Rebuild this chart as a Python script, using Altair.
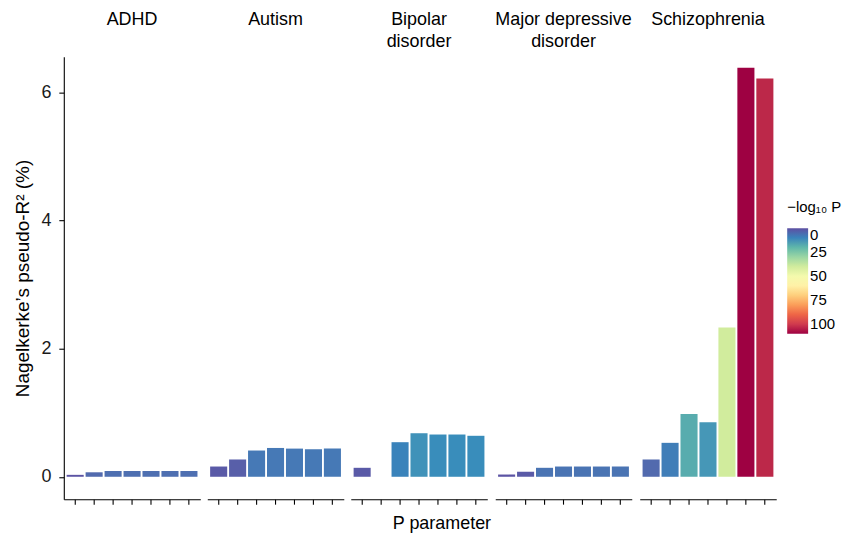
import altair as alt
import pandas as pd

disorders = ["ADHD", "Autism", "Bipolar disorder", "Major depressive disorder", "Schizophrenia"]
panel_titles = [["ADHD", " "], ["Autism", " "], ["Bipolar", "disorder"],
                ["Major depressive", "disorder"], ["Schizophrenia", " "]]
thresholds = ["P1", "P2", "P3", "P4", "P5", "P6", "P7"]

# Nagelkerke's pseudo-R2 (%) per P threshold (None = no bar)
r2_adhd = [0.03, 0.07, 0.09, 0.09, 0.09, 0.09, 0.09]
r2_autism = [0.16, 0.27, 0.41, 0.45, 0.44, 0.43, 0.44]
r2_bipolar = [0.14, None, 0.54, 0.68, 0.66, 0.66, 0.64]
r2_mdd = [0.035, 0.08, 0.14, 0.16, 0.16, 0.16, 0.16]
r2_scz = [0.27, 0.53, 0.98, 0.85, 2.33, 6.39, 6.22]

# -log10 P per bar
lp_adhd = [1, 5, 6, 6, 6, 6, 6]
lp_autism = [2, 3, 8, 8, 8, 8, 8]
lp_bipolar = [2, None, 10, 13, 12, 12, 12]
lp_mdd = [1, 2, 7, 7, 7, 7, 7]
lp_scz = [5, 9, 18, 14, 40, 110, 104]

r2_all = [r2_adhd, r2_autism, r2_bipolar, r2_mdd, r2_scz]
lp_all = [lp_adhd, lp_autism, lp_bipolar, lp_mdd, lp_scz]

rows = []
for d, r2s, lps in zip(disorders, r2_all, lp_all):
    for t, r, l in zip(thresholds, r2s, lps):
        if r is not None:
            rows.append({"disorder": d, "threshold": t, "r2": r, "logp": l})
df = pd.DataFrame(rows)

# Spectral, from high -log10 P (red) to low (blue); legend shows low at top
spectral = ["#9e0142", "#d53e4f", "#f46d43", "#fdae61", "#fee08b", "#ffffbf",
            "#e6f598", "#abdda4", "#66c2a5", "#3288bd", "#5e4fa2"]

FONT = "Liberation Sans"
W, H = 137, 444
ydom = [-0.35, 6.56]
PAD_L, PAD_T = 5, 2

panels = []
for i, (d, ttl) in enumerate(zip(disorders, panel_titles)):
    yaxis = alt.Axis(values=[0, 2, 4, 6], title="Nagelkerke’s pseudo-R² (%)", grid=False,
                     tickSize=5, labelPadding=8, titlePadding=8, titleFontSize=19) if i == 0 else None
    legend = alt.Legend(title="−log₁₀ P", values=[-100, -75, -50, -25, 0],
                        labelExpr="format(abs(datum.value), 'd')",
                        gradientLength=106, gradientThickness=21,
                        orient="none", legendX=726, legendY=144) if i == 0 else None
    ch = alt.Chart(df).transform_filter(alt.datum.disorder == d).transform_calculate(
        neglogp="-datum.logp"
    ).mark_bar().encode(
        x=alt.X("threshold:N", sort=thresholds,
                scale=alt.Scale(domain=thresholds, paddingInner=0.1, paddingOuter=0.15),
                axis=alt.Axis(labels=False, title=None, tickSize=5, bandPosition=0.5, grid=False)),
        y=alt.Y("r2:Q", scale=alt.Scale(domain=ydom, nice=False, zero=False), axis=yaxis),
        color=alt.Color("neglogp:Q", scale=alt.Scale(domain=[-110, 0], range=spectral,
                                                     interpolate="lab"), legend=legend),
    ).properties(
        width=W, height=H,
        title=alt.TitleParams(text=ttl, fontSize=18, fontWeight="normal", anchor="middle",
                              lineHeight=22, offset=6, font=FONT, color="black"),
    )
    panels.append(ch)

chart = alt.hconcat(*panels, spacing=7).resolve_scale(color="shared").properties(
    title=alt.TitleParams(text="P parameter", orient="bottom", anchor="middle", dx=14,
                          fontSize=18, fontWeight="normal", font=FONT, color="black", offset=10),
    padding={"left": PAD_L, "top": PAD_T, "right": 0, "bottom": 0},
).configure_view(stroke=None).configure_axis(
    domainColor="black", tickColor="black", labelColor="#1a1a1a", titleColor="black",
    labelFont=FONT, titleFont=FONT, labelFontSize=18, titleFontSize=18, titleFontWeight="normal",
    domainWidth=1.1, tickWidth=1.1,
).configure_legend(
    labelFont=FONT, titleFont=FONT, labelFontSize=15, titleFontSize=15, titleFontWeight="normal",
    labelColor="black", titleColor="black", labelOffset=5, titlePadding=13,
)

chart.save("out.html", embed_options={"renderer": "svg", "actions": False})
